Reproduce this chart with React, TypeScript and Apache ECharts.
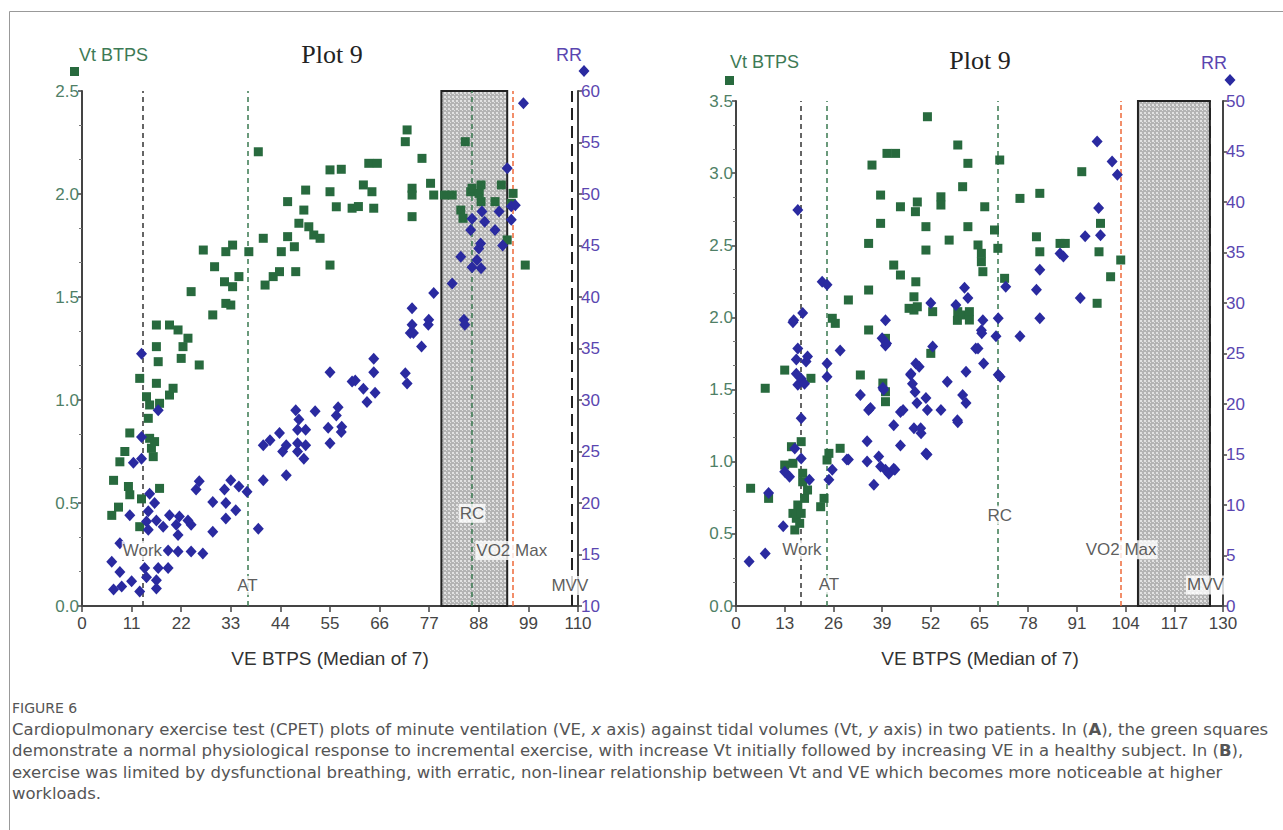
import React, { useEffect, useRef } from "react";
import * as echarts from "echarts";

// ---------- DATA ----------
// Plot A (left): VE (L/min) vs Vt (L) — green squares
const leftVt: number[][] = [
  [6.6,0.44],[7.0,0.61],[8.1,0.48],[8.4,0.70],[9.5,0.75],[10.3,0.58],[10.6,0.54],[10.6,0.84],[12.8,0.385],[12.8,1.105],
  [13.2,0.52],[14.3,1.016],[14.7,0.911],[15.0,0.976],[15.0,0.814],[15.4,0.766],[15.8,0.725],[16.1,0.798],[16.5,1.364],[16.5,1.259],
  [16.5,1.081],[16.9,1.186],[17.2,0.984],[17.2,0.571],[19.4,1.364],[19.4,1.024],[20.2,1.057],[21.3,1.34],[22.0,1.202],[22.4,1.259],
  [23.5,1.30],[24.2,1.526],[26.0,1.17],[26.9,1.728],[29.0,1.413],[29.4,1.647],[31.6,1.574],[31.9,1.72],[31.9,1.469],[33.0,1.461],
  [33.4,1.752],[33.4,1.55],[34.8,1.599],[37.0,1.72],[39.1,2.205],[40.2,1.785],[40.6,1.558],[42.4,1.599],[43.8,1.623],[44.2,1.72],
  [45.6,1.963],[45.6,1.793],[47.1,1.744],[47.4,1.623],[48.1,1.858],[49.2,1.922],[49.6,2.019],[50.3,1.841],[51.4,1.801],[52.8,1.785],
  [55.0,2.117],[55.0,2.011],[55.0,1.655],[56.4,1.938],[57.5,2.12],[59.9,1.931],[61.3,1.939],[62.4,2.044],[63.6,2.149],[64.3,2.011],
  [64.7,1.931],[65.5,2.149],[71.7,2.254],[72.1,2.311],[73.2,2.028],[73.2,1.995],[73.2,1.89],[75.4,2.173],[77.3,2.052],[78.0,1.995],
  [80.4,1.995],[82.1,1.995],[84.0,1.922],[84.5,1.882],[85.0,2.254],[86.2,2.011],[86.5,2.028],[88.1,2.003],[88.5,2.044],[88.5,1.963],
  [91.6,1.963],[93.0,2.044],[94.3,1.777],[95.2,1.955],[95.6,2.003],[98.3,1.655]
];
// Plot A (left): VE vs RR (breaths/min) — blue diamonds
const leftRR: number[][] = [
  [6.6,14.3],[7.0,11.6],[8.4,16.1],[8.4,13.3],[8.8,11.9],[10.6,18.8],[11.0,12.4],[11.4,23.9],[12.8,11.4],[13.2,34.5],
  [13.2,26.4],[13.2,24.3],[13.9,13.7],[14.3,18.2],[14.3,12.8],[14.7,19.2],[14.7,17.4],[15.0,20.9],[16.1,20.0],[16.5,18.3],
  [16.5,12.5],[16.5,11.7],[16.9,29.0],[16.9,13.7],[18.0,17.7],[19.1,15.4],[19.1,13.7],[19.4,18.8],[20.9,17.9],[21.3,16.9],
  [21.3,15.3],[21.6,18.7],[23.5,18.3],[24.2,17.9],[24.2,15.3],[25.3,21.3],[26.0,22.1],[26.8,15.1],[29.0,20.1],[29.0,17.2],
  [31.6,21.3],[31.9,20.0],[31.9,18.5],[33.0,22.2],[34.1,19.3],[34.8,21.6],[36.6,21.1],[39.1,17.5],[40.2,25.6],[40.2,22.2],
  [41.7,26.1],[43.8,26.8],[44.5,25.0],[45.3,25.6],[45.3,22.7],[47.4,29.0],[47.8,27.1],[47.8,25.8],[47.8,25.0],[48.1,28.1],
  [49.2,24.3],[49.6,27.1],[49.6,25.6],[51.7,28.9],[54.6,27.3],[55.0,32.7],[55.0,25.8],[56.4,28.5],[56.8,29.3],[57.5,26.9],
  [57.6,27.4],[59.9,31.8],[60.6,31.9],[62.4,31.1],[63.2,29.8],[64.7,34.0],[64.7,32.7],[65.0,30.7],[71.7,32.6],[72.1,31.6],
  [72.8,36.5],[73.2,38.9],[73.2,37.3],[73.5,36.5],[75.3,35.2],[76.8,37.3],[76.9,37.8],[78.0,40.4],[82.1,41.3],[84.0,43.9],
  [84.7,37.8],[84.9,37.3],[86.2,46.5],[86.5,47.6],[86.5,42.9],[87.6,43.6],[88.0,44.7],[88.4,45.2],[88.5,42.8],[88.7,48.3],
  [89.3,47.3],[91.6,46.5],[92.5,48.3],[93.3,45.0],[94.3,52.5],[95.2,48.8],[95.2,47.5],[96.1,48.9],[97.9,58.8]
];
// Plot B (right): VE vs Vt — green squares
const rightVt: number[][] = [
  [3.9,0.816],[7.8,1.509],[8.7,0.746],[13.0,1.635],[13.0,0.977],[14.8,1.104],[15.2,0.989],[15.2,0.642],[15.7,0.527],[16.1,0.608],
  [16.5,0.70],[17.0,0.573],[17.4,1.139],[17.4,0.642],[17.8,0.920],[17.8,0.861],[18.3,0.746],[19.1,0.804],[20.0,1.578],[22.6,0.688],
  [23.5,0.746],[24.3,1.012],[24.8,1.058],[25.7,1.994],[26.5,1.959],[27.8,1.093],[30.0,2.121],[33.2,1.601],[35.4,2.513],[35.4,2.19],
  [35.4,1.913],[36.3,3.056],[38.6,2.848],[38.6,2.652],[39.2,1.545],[39.9,1.855],[39.9,1.485],[39.9,1.416],[40.3,3.137],[42.1,2.363],
  [42.6,3.137],[43.9,2.767],[43.9,2.294],[46.2,2.063],[47.5,2.143],[47.5,2.051],[47.9,2.733],[48.0,2.247],[48.4,2.80],[48.4,2.074],
  [50.7,2.629],[50.7,2.467],[51.1,3.391],[52.0,1.751],[52.5,2.04],[54.7,2.836],[54.7,2.779],[56.9,2.536],[59.2,3.195],[59.2,2.04],
  [59.1,1.98],[60.5,2.906],[60.5,2.017],[61.9,3.068],[61.9,2.629],[62.3,2.04],[62.3,1.982],[64.6,2.502],[65.5,2.444],[65.5,2.386],
  [65.9,2.317],[66.4,2.767],[69.0,2.606],[69.9,2.479],[70.4,3.091],[71.7,2.271],[75.8,2.825],[80.2,2.559],[81.1,2.86],[81.1,2.455],
  [86.5,2.513],[87.9,2.513],[92.3,3.01],[96.4,2.098],[96.9,2.455],[97.3,2.652],[100.0,2.282],[102.7,2.398]
];
// Plot B (right): VE vs RR — blue diamonds
const rightRR: number[][] = [
  [3.5,4.4],[7.8,5.2],[8.7,11.2],[12.6,7.9],[13.0,13.3],[14.3,12.8],[15.2,28.1],[15.4,28.3],[15.7,15.6],[16.1,24.4],
  [16.1,23.0],[16.5,39.2],[16.5,25.5],[16.5,21.9],[17.4,22.5],[17.4,18.6],[17.4,14.6],[17.8,29.0],[18.3,22.0],[18.7,24.2],
  [19.1,24.7],[19.6,12.5],[23.0,32.1],[24.3,31.8],[24.3,24.0],[24.3,22.7],[24.8,12.5],[25.7,13.5],[27.8,25.3],[29.6,14.5],
  [30.0,14.5],[33.2,20.9],[35.0,16.3],[35.0,14.3],[35.4,19.4],[35.9,19.6],[36.8,12.0],[38.1,14.8],[38.6,13.8],[39.0,26.5],
  [39.2,21.6],[39.9,28.3],[39.9,25.8],[39.4,21.4],[39.9,13.5],[40.2,26.0],[40.8,13.1],[42.1,17.9],[42.1,13.6],[42.4,13.5],
  [43.9,19.2],[43.9,15.9],[44.6,19.4],[46.6,22.9],[46.7,23.0],[47.1,22.0],[47.5,17.6],[47.8,21.2],[48.0,24.0],[48.3,20.1],
  [48.9,23.7],[49.3,17.6],[49.4,17.1],[50.7,20.6],[50.7,15.1],[51.0,15.0],[51.1,19.4],[52.0,30.0],[52.5,25.7],[54.7,19.4],
  [56.4,22.2],[58.7,29.8],[59.1,18.4],[59.2,18.2],[60.5,20.9],[61.0,31.5],[61.4,23.2],[61.4,20.1],[61.9,30.5],[64.0,25.5],
  [64.6,25.5],[65.5,27.3],[65.6,27.0],[65.9,28.3],[66.1,24.0],[69.4,26.7],[70.0,28.5],[70.0,22.9],[70.5,22.7],[72.0,31.6],
  [75.8,26.7],[80.2,31.3],[81.1,33.3],[81.1,28.5],[86.5,34.9],[87.4,34.6],[91.9,30.5],[93.2,36.6],[96.4,46.0],[96.8,39.4],
  [97.3,36.7],[100.4,44.0],[101.8,42.7]
];

// Event thresholds on the VE axis
const eventNames = ["Work", "AT", "RC", "VO2 Max", "MVV"];
const leftEvents = [13.4, 36.7, 86.5, 95.5, 108.6];
const rightEvents = [17.4, 24.2, 70.0, 102.7, 126.5];
// Shaded band [from, to] on VE axis
const leftBand = [79.7, 94.3];
const rightBand = [107.3, 126.5];

const caption1 = "Cardiopulmonary exercise test (CPET) plots of minute ventilation (VE, {i|x} axis) against tidal volumes (Vt, {i|y} axis) in two patients. In ({b|A}), the green squares";
const caption2 = "demonstrate a normal physiological response to incremental exercise, with increase Vt initially followed by increasing VE in a healthy subject. In ({b|B}),";
const caption3 = "exercise was limited by dysfunctional breathing, with erratic, non-linear relationship between Vt and VE which becomes more noticeable at higher";
const caption4 = "workloads.";

// ---------- STYLE ----------
const GREEN = "#286a3e";
const BLUE = "#2a2aa0";
const AXIS = "#444";
const VT_LABEL = "#4f7f66";
const RR_LABEL = "#5a46b0";
const FONT = "Liberation Sans, Arial, sans-serif";
const CAP_FAMILY = "DejaVu Sans";
const CAP_SIZE = 16.5;

const eventStyle: Record<string, any> = {
  Work: { color: "#333", type: [5, 4], width: 1.5 },
  AT: { color: "#3a7a50", type: [5, 4], width: 1.5 },
  RC: { color: "#3a7a50", type: [5, 4], width: 1.5 },
  "VO2 Max": { color: "#ee6a3a", type: [5, 3], width: 1.5 },
  MVV: { color: "#222", type: [12, 6], width: 2 },
};

function stipple(): any {
  try {
    const c = document.createElement("canvas");
    c.width = 4; c.height = 4;
    const g = c.getContext("2d");
    if (!g) return "#c6c6c6";
    g.fillStyle = "#b4b4b4"; g.fillRect(0, 0, 4, 4);
    g.fillStyle = "#e2e2e2"; g.fillRect(0, 0, 2, 2); g.fillRect(2, 2, 1, 1);
    return { image: c.toDataURL(), repeat: "repeat" };
  } catch (e) {
    return "#c6c6c6";
  }
}

function xAxisCfg(grid: number, max: number, interval: number) {
  return {
    type: "value", gridIndex: grid, min: 0, max, interval,
    axisLine: { show: true, onZero: false, lineStyle: { color: AXIS, width: 2 } },
    axisTick: { show: true, length: 6, lineStyle: { color: AXIS, width: 1.5 } },
    axisLabel: { color: AXIS, fontSize: 17, margin: 9, fontFamily: FONT },
    splitLine: { show: false },
  };
}
function yAxisCfg(grid: number, pos: "left" | "right", max: number, interval: number, color: string, fixed: boolean, minor: boolean, min = 0) {
  return {
    type: "value", gridIndex: grid, position: pos, min, max, interval,
    axisLine: { show: true, onZero: false, lineStyle: { color: AXIS, width: 2 } },
    axisTick: { show: true, length: 4, lineStyle: { color: AXIS, width: 1.5 } },
    minorTick: { show: minor, splitNumber: 3, length: 3, lineStyle: { color: "#777", width: 1 } },
    axisLabel: {
      color, fontSize: 17, margin: 3, fontFamily: FONT,
      formatter: (v: number) => (fixed ? v.toFixed(1) : String(v)),
    },
    splitLine: { show: false },
    minorSplitLine: { show: false },
  };
}

function plotSeries(xi: number, yVt: number, yRR: number, vt: number[][], rr: number[][], events: number[], band: number[], vtMax: number, labelPos: number[][], fill: any) {
  return [
    {
      type: "scatter", xAxisIndex: xi, yAxisIndex: yVt, data: vt,
      symbol: "rect", symbolSize: 9, itemStyle: { color: GREEN, opacity: 1 }, z: 3,
      markArea: {
        silent: true, z: 1,
        itemStyle: { color: fill, borderColor: "#222", borderWidth: 2, opacity: 1 },
        data: [[{ xAxis: band[0], yAxis: 0 }, { xAxis: band[1], yAxis: vtMax }]],
      },
      markLine: {
        silent: true, z: 2, symbol: ["none", "none"], label: { show: false },
        data: events.map((x, i) => ({ xAxis: x, lineStyle: eventStyle[eventNames[i]] })),
      },
    },
    {
      type: "scatter", xAxisIndex: xi, yAxisIndex: yRR, data: rr,
      symbol: "diamond", symbolSize: [11, 12], itemStyle: { color: BLUE, opacity: 1 }, z: 4,
    },
    {
      type: "scatter", xAxisIndex: xi, yAxisIndex: yVt, z: 6, symbolSize: 1,
      itemStyle: { color: "rgba(0,0,0,0)" },
      data: eventNames.map((n, i) => ({ name: n, value: labelPos[i] })),
      label: {
        show: true, position: "inside", formatter: "{b}", color: "#333", fontSize: 17,
        fontFamily: FONT, backgroundColor: "#fff", padding: [1, 1],
      },
    },
  ];
}

function diamond(cx: number, cy: number, w: number, h: number, color: string) {
  return {
    type: "polygon",
    shape: { points: [[cx, cy - h / 2], [cx + w / 2, cy], [cx, cy + h / 2], [cx - w / 2, cy]] },
    style: { fill: color },
  };
}

export default function App() {
  const ref = useRef<HTMLDivElement>(null);
  useEffect(() => {
    const chart = echarts.init(ref.current!, null, { renderer: "svg" });
    const fill = stipple();
    const option: any = {
      animation: false,
      backgroundColor: "#fff",
      grid: [
        { left: 82, top: 91, width: 496, height: 515 },
        { left: 736, top: 101, width: 487, height: 505 },
      ],
      xAxis: [xAxisCfg(0, 110, 11), xAxisCfg(1, 130, 13)],
      yAxis: [
        yAxisCfg(0, "left", 2.5, 0.5, VT_LABEL, true, true),
        yAxisCfg(0, "right", 60, 5, RR_LABEL, false, false, 10),
        yAxisCfg(1, "left", 3.5, 0.5, VT_LABEL, true, true),
        yAxisCfg(1, "right", 50, 5, RR_LABEL, false, false),
      ],
      series: [
        ...plotSeries(0, 0, 1, leftVt, leftRR, leftEvents, leftBand, 2.5,
          [[13.4, 0.27], [36.7, 0.1], [86.5, 0.45], [95.3, 0.27], [108.2, 0.1]], fill),
        ...plotSeries(1, 2, 3, rightVt, rightRR, rightEvents, rightBand, 3.5,
          [[17.6, 0.39], [24.8, 0.146], [70.4, 0.63], [102.8, 0.39], [125.3, 0.146]], fill),
      ],
      graphic: [
        { type: "line", shape: { x1: 9.5, y1: 11.5, x2: 1283, y2: 11.5 }, style: { stroke: "#999", lineWidth: 1 } },
        { type: "line", shape: { x1: 9.5, y1: 11.5, x2: 9.5, y2: 830 }, style: { stroke: "#999", lineWidth: 1 } },
        // Left plot headers
        { type: "text", x: 79, y: 55, style: { text: "Vt BTPS", fill: "#3d7a55", font: `18px ${FONT}`, textVerticalAlign: "middle" } },
        { type: "text", x: 332, y: 54, style: { text: "Plot 9", fill: "#222", font: `26px "Liberation Serif", "Times New Roman", serif`, textAlign: "center", textVerticalAlign: "middle" } },
        { type: "text", x: 569, y: 55, style: { text: "RR", fill: RR_LABEL, font: `18px ${FONT}`, textAlign: "center", textVerticalAlign: "middle" } },
        { type: "rect", shape: { x: 70, y: 67, width: 9, height: 9 }, style: { fill: GREEN } },
        diamond(584, 71, 11, 12, BLUE),
        // Right plot headers
        { type: "text", x: 730, y: 62, style: { text: "Vt BTPS", fill: "#3d7a55", font: `18px ${FONT}`, textVerticalAlign: "middle" } },
        { type: "text", x: 980, y: 60, style: { text: "Plot 9", fill: "#222", font: `26px "Liberation Serif", "Times New Roman", serif`, textAlign: "center", textVerticalAlign: "middle" } },
        { type: "text", x: 1214, y: 63, style: { text: "RR", fill: RR_LABEL, font: `18px ${FONT}`, textAlign: "center", textVerticalAlign: "middle" } },
        { type: "rect", shape: { x: 725, y: 76, width: 9, height: 9 }, style: { fill: GREEN } },
        diamond(1230, 80, 11, 12, BLUE),
        // Axis titles
        { type: "text", x: 330, y: 658, style: { text: "VE BTPS (Median of 7)", fill: "#333", font: `19px ${FONT}`, textAlign: "center", textVerticalAlign: "middle" } },
        { type: "text", x: 980, y: 658, style: { text: "VE BTPS (Median of 7)", fill: "#333", font: `19px ${FONT}`, textAlign: "center", textVerticalAlign: "middle" } },
        // Caption
        { type: "text", x: 12, y: 708, style: { text: "FIGURE 6", fill: "#555", font: `14px "${CAP_FAMILY}", sans-serif`, textVerticalAlign: "middle" } },
        ...[caption1, caption2, caption3, caption4].map((t, i) => ({
          type: "text", x: 12, y: 729 + i * 21.6,
          style: {
            text: t, fill: "#555", font: `${CAP_SIZE}px "${CAP_FAMILY}", sans-serif`, textVerticalAlign: "middle",
            rich: {
              i: { fontStyle: "italic", fill: "#555", fontSize: CAP_SIZE, fontFamily: CAP_FAMILY },
              b: { fontWeight: "bold", fill: "#555", fontSize: CAP_SIZE, fontFamily: CAP_FAMILY },
            },
          },
        })),
      ],
    };
    chart.setOption(option);
    return () => chart.dispose();
  }, []);
  return <div ref={ref} style={{ position: "absolute", left: 0, top: 0, width: 1283, height: 830, background: "#fff" }} />;
}
